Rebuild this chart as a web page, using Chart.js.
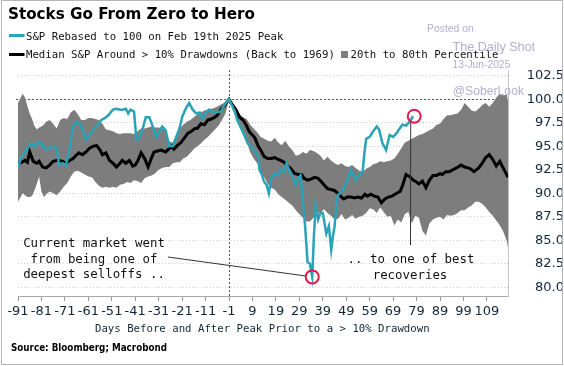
<!DOCTYPE html>
<html>
<head>
<meta charset="utf-8">
<script src="https://cdn.jsdelivr.net/npm/chart.js@4/dist/chart.umd.min.js"></script>
<style>
  html, body { margin: 0; padding: 0; background: #fff; }
  #wrap { width: 564px; height: 366px; position: relative; }
</style>
</head>
<body>
<div id="wrap"><canvas id="chart" width="564" height="366"></canvas></div>
<script>
// S&P rebased to 100 on the peak day (-1)
const tealDays = [-91, -89.5, -87, -85.5, -84, -82, -80.5, -79, -77.5, -76, -74.5, -73.5, -72, -70.5, -69, -67.5, -66, -64.5, -63.5, -62, -61, -59, -57, -55.5, -54, -52.5, -50.5, -49, -47.5, -46.5, -45, -44, -43, -41.5, -40.5, -39.5, -38, -36.5, -35, -33.5, -32, -31, -29.5, -28, -26.5, -25, -23.5, -22, -21, -19.5, -18, -16.5, -15, -13.5, -12.5, -11, -9.5, -7.5, -4.5, -3, -1,
  1.5, 2.5, 4, 5.5, 7, 8.5, 10, 11.5, 12, 13, 14, 15, 16, 17, 18.5, 20, 21, 22.5, 23.5, 24.5, 25.5, 27, 27.5, 28.5, 29.5, 30.5, 31.5, 32.5, 33.5, 34.5, 35.2, 36, 37, 38, 39, 40.5, 41.6, 42.6, 43.3, 44, 45, 45.5, 47, 48.5, 49.5, 51, 52, 53, 54.5, 56, 56.8, 57.5, 59, 60.5, 62, 63, 64.5, 66, 67.5, 69, 70.5, 71.5, 73, 74.5, 76, 77.5]
const tealValues = [92.8, 93.9, 94.8, 95.3, 95.0, 95.5, 95.1, 94.6, 94.8, 95.0, 94.8, 93.0, 93.2, 93.0, 94.7, 97.1, 97.6, 97.4, 96.7, 95.7, 96.0, 96.7, 97.3, 97.8, 98.0, 98.3, 98.9, 99.0, 98.9, 98.9, 99.0, 98.5, 98.9, 98.7, 95.7, 95.8, 96.7, 98.1, 98.1, 97.1, 96.0, 96.5, 97.1, 96.7, 95.0, 95.0, 96.0, 97.0, 98.1, 99.0, 99.6, 98.9, 98.5, 98.6, 98.0, 98.5, 98.9, 98.6, 98.7, 99.4, 100,
  98.7, 97.8, 97.0, 96.2, 95.3, 95.0, 94.4, 94.0, 92.5, 92.0, 91.2, 90.9, 90.0, 91.6, 92.1, 91.9, 92.5, 92.3, 93.2, 92.6, 92.1, 91.2, 90.9, 91.6, 91.9, 89.3, 86.4, 82.7, 82.5, 81.1, 85.4, 88.8, 87.2, 87.9, 87.9, 85.7, 86.5, 84.0, 85.4, 86.4, 89.3, 89.8, 90.2, 90.7, 91.4, 92.5, 92.0, 91.4, 91.9, 92.3, 94.4, 95.8, 96.0, 96.6, 97.1, 96.8, 95.3, 94.6, 96.2, 96.0, 96.4, 96.8, 97.3, 97.2, 97.6, 98.2]

// Median S&P around > 10% drawdowns
const medianDays = [-91, -89.5, -88, -87, -86, -84.5, -83, -82, -80.5, -79, -77.5, -76, -74, -72, -70.5, -69, -67.5, -66, -65, -63.5, -62, -60.5, -59, -57.5, -56, -55, -53.5, -52, -50.5, -49, -47.5, -46.5, -45, -43.5, -42, -41, -40, -38.5, -37, -35.5, -34, -33, -31.5, -30, -28, -25.5, -24.5, -23, -21.5, -20, -18.5, -17, -15.5, -14.5, -13, -11.5, -10, -8.5, -7, -6, -4.5, -3, -1,
  0.5, 2, 3.5, 5, 6.5, 7.5, 10, 11.5, 12.5, 14, 15.5, 17, 18.5, 20, 21, 22.5, 24, 25.5, 27, 28.5, 30, 31, 32.5, 34, 35.5, 37, 38.5, 39.5, 41, 42.5, 44, 45.5, 47, 48, 49.5, 51, 52.5, 54, 55.5, 57, 58, 59.5, 61, 62.5, 64, 65.5, 67, 68.5, 70.5, 72, 73, 74.5, 76, 77.5, 79, 80, 81.5, 83, 84.5, 86, 87.5, 89, 90, 91.5, 93, 94.5, 96, 98, 99.5, 101, 102, 103.5, 105.5, 107, 108.5, 110, 111.5, 113, 114.5, 115.5, 117, 118]
const medianValues = [93.2, 93.3, 93.5, 93.3, 94.4, 93.4, 93.2, 93.4, 92.8, 92.7, 93.0, 93.4, 93.5, 93.4, 93.2, 93.5, 93.7, 94.1, 94.3, 94.1, 94.4, 94.8, 95.0, 95.1, 94.6, 94.1, 94.3, 93.5, 93.2, 92.8, 93.2, 93.5, 93.2, 93.5, 92.9, 93.0, 93.4, 94.3, 93.7, 92.8, 93.8, 94.4, 94.5, 94.6, 94.4, 95.0, 94.7, 95.1, 95.4, 95.9, 96.4, 96.6, 96.9, 96.9, 97.4, 97.3, 97.8, 97.9, 98.1, 98.3, 98.9, 99.3, 100,
  99.4, 98.9, 98.1, 97.8, 97.2, 96.6, 95.9, 95.0, 94.6, 93.9, 93.7, 93.7, 93.8, 93.6, 93.5, 93.3, 92.9, 92.6, 92.1, 92.0, 92.0, 91.6, 91.4, 91.5, 91.7, 91.6, 91.2, 90.9, 90.5, 90.4, 90.3, 90.0, 89.6, 89.4, 89.6, 89.6, 89.5, 89.6, 89.5, 89.9, 89.7, 89.9, 89.7, 89.6, 89.0, 89.4, 89.6, 89.7, 90.0, 90.2, 90.8, 92.0, 91.8, 91.4, 91.2, 91.0, 91.3, 90.6, 91.4, 91.9, 91.9, 92.1, 92.0, 92.3, 92.3, 92.5, 92.7, 93.0, 92.8, 92.7, 92.6, 92.3, 92.7, 93.2, 93.8, 94.1, 93.6, 92.9, 93.4, 92.9, 92.2, 91.7]

// 20th to 80th percentile band
const bandDays = [-91, -89, -88, -87, -86, -85, -84, -83, -82, -81, -80, -79, -77.5, -76, -74.5, -73, -71.5, -70, -68.5, -67, -65.5, -64, -62.5, -61, -59.5, -58, -56.5, -55, -53.5, -52, -50.5, -49, -47.5, -46, -44.5, -43, -41.5, -40, -38.5, -37, -35.5, -34, -32.5, -31, -29.5, -28, -26.5, -25, -23.5, -22, -20.5, -19, -17.5, -16, -14.5, -13, -11.5, -10, -8.5, -7, -5.5, -4, -2.5, -1,
  0.5, 2, 3.5, 5, 6.5, 8, 9.5, 11, 12.5, 14, 15.5, 17, 18.5, 20, 21.5, 23, 24.5, 26, 27.5, 29, 30.5, 32, 33.5, 35, 36.5, 38, 39.5, 41, 42.5, 44, 45.5, 47, 48.5, 50, 51.5, 53, 54.5, 56, 57.5, 59, 60.5, 62, 63.5, 65, 66.5, 68, 69.5, 71, 72.5, 74, 75.5, 77, 78.5, 80, 81.5, 83, 84.5, 86, 87.5, 89, 90.5, 92, 93.5, 95, 96.5, 98, 99.5, 101, 102.5, 104, 105.5, 107, 108.5, 110, 111.5, 113, 114.5, 116, 117.5, 118]
const bandHigh = [99.6, 100.6, 100.2, 99.3, 98.5, 97.9, 97.2, 96.8, 97.0, 97.1, 97.3, 97.6, 97.8, 97.4, 96.9, 97.8, 98.0, 97.9, 98.6, 98.9, 98.4, 97.8, 97.8, 98.0, 98.0, 97.9, 97.8, 97.4, 96.8, 96.7, 96.6, 96.4, 96.3, 96.4, 96.4, 96.4, 96.3, 96.6, 96.9, 96.9, 97.0, 97.1, 97.0, 97.0, 96.9, 96.6, 95.5, 95.4, 96.0, 96.9, 97.3, 97.6, 97.8, 98.1, 98.4, 98.6, 98.8, 98.9, 99.0, 99.1, 99.3, 99.5, 99.7, 100,
  99.4, 98.9, 98.4, 98.1, 97.9, 97.3, 96.9, 96.5, 96.0, 95.8, 95.6, 95.5, 95.9, 95.4, 95.1, 95.6, 95.0, 94.6, 94.0, 94.1, 94.4, 94.2, 94.6, 94.5, 94.3, 94.0, 93.5, 93.9, 93.5, 93.2, 93.0, 93.2, 92.9, 92.8, 93.0, 92.7, 92.4, 92.3, 92.6, 92.8, 93.1, 93.2, 93.4, 93.3, 93.4, 93.5, 93.7, 94.2, 94.8, 95.4, 95.6, 95.8, 96.0, 96.2, 96.3, 96.5, 96.7, 96.9, 97.3, 97.4, 97.9, 98.3, 98.3, 98.4, 98.5, 98.9, 99.6, 99.2, 98.8, 98.7, 99.0, 99.4, 99.6, 99.2, 99.6, 100.2, 100.6, 100.4, 100.5, 99.8]
const bandLow = [89.1, 90.0, 89.8, 89.6, 89.6, 89.7, 90.3, 91.0, 91.8, 90.2, 89.6, 89.9, 90.2, 90.0, 89.8, 90.2, 90.7, 91.1, 91.8, 92.3, 92.4, 92.2, 92.0, 91.8, 91.7, 91.2, 90.8, 90.6, 90.7, 90.6, 90.7, 90.6, 90.9, 91.0, 91.2, 91.1, 91.4, 91.3, 91.1, 91.6, 91.8, 91.9, 92.1, 92.5, 92.7, 92.8, 92.8, 93.2, 93.3, 93.3, 93.7, 93.9, 94.3, 94.7, 95.0, 95.3, 95.7, 96.0, 96.4, 96.8, 97.2, 97.8, 98.5, 100,
  98.9, 98.0, 97.2, 96.3, 95.5, 94.4, 93.7, 93.2, 92.3, 91.7, 91.0, 90.6, 90.4, 89.9, 89.6, 89.3, 89.0, 88.7, 88.2, 87.8, 87.4, 87.0, 87.0, 87.4, 88.0, 87.9, 88.3, 87.9, 87.6, 87.2, 87.3, 87.8, 87.2, 87.4, 87.7, 87.3, 87.5, 87.6, 87.9, 88.4, 88.3, 87.9, 88.5, 88.0, 87.5, 87.6, 86.6, 87.2, 86.9, 87.8, 88.0, 86.8, 87.6, 87.4, 86.0, 85.5, 86.8, 87.2, 87.4, 87.5, 87.2, 87.7, 87.6, 87.7, 87.9, 88.2, 88.2, 88.5, 88.7, 89.1, 89.1, 88.9, 88.5, 88.0, 87.6, 87.1, 86.6, 85.9, 84.9, 84.2]

const xTicks = [-91, -81, -71, -61, -51, -41, -31, -21, -11, -1, 9, 19, 29, 39, 49, 59, 69, 79, 89, 99, 109]
const yTicks = [80, 82.5, 85, 87.5, 90, 92.5, 95, 97.5, 100, 102.5]

const teal = '#2ba3b7'
const band = '#7d7d7d'
const ink = '#14263a'
const mark = '#e8174a'
const mono = '"DejaVu Sans Mono", monospace'

const pts = (xs, ys) => xs.map((x, i) => ({ x: x, y: ys[i] }))

const overlay = {
  id: 'overlay',
  beforeDatasetsDraw(chart) {
    const { ctx, chartArea: a, scales: { x, y } } = chart
    ctx.save()
    ctx.strokeStyle = '#555'
    ctx.lineWidth = 1
    ctx.setLineDash([2, 2])
    const y100 = Math.round(y.getPixelForValue(100)) + 0.5
    ctx.beginPath(); ctx.moveTo(a.left - 2, y100); ctx.lineTo(a.right, y100); ctx.stroke()
    const xPeak = Math.round(x.getPixelForValue(-1)) + 0.5
    ctx.beginPath(); ctx.moveTo(xPeak, a.top); ctx.lineTo(xPeak, a.bottom); ctx.stroke()
    ctx.restore()
  },
  afterDraw(chart) {
    const { ctx, scales: { x, y } } = chart
    ctx.save()

    // annotations
    const lowX = x.getPixelForValue(34.5), lowY = y.getPixelForValue(81.1)
    const hiX = x.getPixelForValue(78), hiY = y.getPixelForValue(98.2)
    ctx.strokeStyle = '#333'
    ctx.lineWidth = 1
    ctx.beginPath(); ctx.moveTo(168, 257); ctx.lineTo(lowX - 7, lowY - 1); ctx.stroke()
    ctx.beginPath(); ctx.moveTo(hiX - 3.5, hiY + 6.5); ctx.lineTo(410.5, 245); ctx.stroke()
    ctx.strokeStyle = mark
    ctx.lineWidth = 2
    ctx.beginPath(); ctx.arc(lowX, lowY, 6.5, 0, Math.PI * 2); ctx.stroke()
    ctx.beginPath(); ctx.arc(hiX, hiY, 6.5, 0, Math.PI * 2); ctx.stroke()

    ctx.fillStyle = '#111'
    ctx.font = '12.4px ' + mono
    ctx.textAlign = 'center'
    ctx.textBaseline = 'alphabetic'
    ctx.fillText('Current market went', 94, 246.7)
    ctx.fillText('from being one of', 94, 262.6)
    ctx.fillText('deepest selloffs ..', 94, 278.4)
    ctx.fillText('.. to one of best', 411, 263.2)
    ctx.fillText('recoveries', 410, 278.6)

    // title
    ctx.textAlign = 'left'
    ctx.fillStyle = '#000'
    ctx.font = 'bold 16.5px "DejaVu Sans"'
    ctx.fillText('Stocks Go From Zero to Hero', 8, 18.9, 247)

    // legend
    ctx.lineWidth = 3
    ctx.strokeStyle = teal
    ctx.beginPath(); ctx.moveTo(9, 35.5); ctx.lineTo(24.5, 35.5); ctx.stroke()
    ctx.strokeStyle = '#000'
    ctx.beginPath(); ctx.moveTo(9, 54.5); ctx.lineTo(24.5, 54.5); ctx.stroke()
    ctx.fillStyle = band
    ctx.fillRect(341, 51, 7, 7)
    ctx.fillStyle = '#111'
    ctx.font = '10.7px ' + mono
    ctx.fillText('S&P Rebased to 100 on Feb 19th 2025 Peak', 26, 39.5)
    ctx.fillText('Median S&P Around > 10% Drawdowns (Back to 1969)', 26, 58.3)
    ctx.fillText('20th to 80th Percentile', 350.5, 58.3)

    // axis title and source
    ctx.fillStyle = ink
    ctx.fillText('Days Before and After Peak Prior to a > 10% Drawdown', 95, 331.5)
    ctx.fillStyle = '#000'
    ctx.font = 'bold 10px "DejaVu Sans"'
    ctx.fillText('Source: Bloomberg; Macrobond', 11, 350.5, 156)

    // watermark
    ctx.fillStyle = '#b3aed3'
    ctx.font = '10.4px "Liberation Sans"'
    ctx.fillText('Posted on', 427, 31.7)
    ctx.font = '12.6px "Liberation Sans"'
    ctx.fillText('The Daily Shot', 452.5, 50.6)
    ctx.font = '10.3px "Liberation Sans"'
    ctx.fillText('13-Jun-2025', 452.5, 68.3)
    ctx.font = '12.2px "Liberation Sans"'
    ctx.fillText('@SoberLook', 452.7, 94.5)

    // outer frame
    ctx.strokeStyle = '#b5b5b5'
    ctx.lineWidth = 1
    ctx.strokeRect(1.5, 0.5, 561, 364)
    ctx.restore()
  }
}

new Chart(document.getElementById('chart'), {
  type: 'line',
  data: {
    datasets: [
      { label: 'S&P', data: pts(tealDays, tealValues), borderColor: teal, borderWidth: 2.5, pointRadius: 0, fill: false },
      { label: 'Median', data: pts(medianDays, medianValues), borderColor: '#000', borderWidth: 3, pointRadius: 0, fill: false },
      { label: '80th', data: pts(bandDays, bandHigh), borderWidth: 0, borderColor: band, backgroundColor: band, pointRadius: 0, fill: '+1' },
      { label: '20th', data: pts(bandDays, bandLow), borderWidth: 0, borderColor: band, pointRadius: 0, fill: false }
    ]
  },
  options: {
    responsive: false,
    animation: false,
    layout: { padding: { left: 18, top: 70, right: 0, bottom: 0 } },
    plugins: { legend: { display: false }, tooltip: { enabled: false } },
    elements: { line: { tension: 0 } },
    scales: {
      x: {
        type: 'linear',
        min: -91,
        max: 118,
        afterBuildTicks: s => { s.ticks = xTicks.map(v => ({ value: v })) },
        afterFit: s => { s.height = 70 },
        grid: { drawOnChartArea: false, tickLength: 5, color: '#999' },
        border: { color: '#aaa' },
        ticks: { autoSkip: false, maxRotation: 0, padding: 3, color: ink, font: { family: 'DejaVu Sans', size: 13 }, callback: v => String(v) }
      },
      y: {
        position: 'right',
        min: 79.07,
        max: 103.12,
        afterBuildTicks: s => { s.ticks = yTicks.map(v => ({ value: v })) },
        afterFit: s => { s.width = 56 },
        grid: { drawTicks: false, color: '#cfcfcf' },
        border: { color: '#c4c4c4', dash: [1, 2] },
        ticks: { padding: 7, crossAlign: 'far', color: ink, font: { family: 'DejaVu Sans', size: 13 }, callback: v => v.toFixed(1) }
      }
    }
  },
  plugins: [overlay]
})
</script>
</body>
</html>
